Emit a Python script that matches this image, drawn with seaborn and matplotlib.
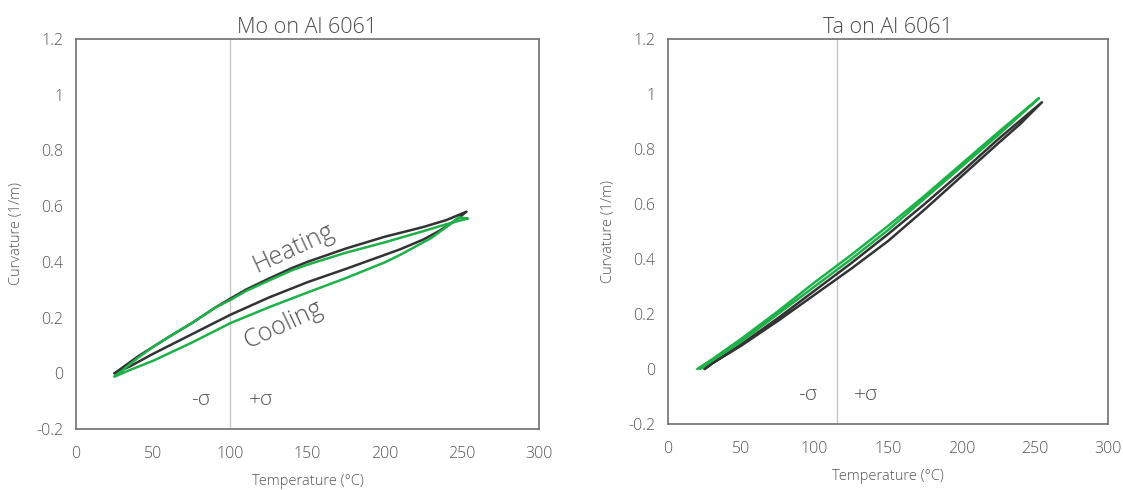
import numpy as np
import pandas as pd
import matplotlib
matplotlib.use("Agg")
import matplotlib.pyplot as plt
import seaborn as sns

# ---------------- data ----------------
titles = ["Mo on Al 6061", "Ta on Al 6061"]
x_label = "Temperature (°C)"
y_label = "Curvature (1/m)"
x_ticks = [0, 50, 100, 150, 200, 250, 300]
y_ticks = [-0.2, 0, 0.2, 0.4, 0.6, 0.8, 1.0, 1.2]
y_tick_labels = ["-0.2", "0", "0.2", "0.4", "0.6", "0.8", "1", "1.2"]
sigma_line_x = [100, 115]

# Mo on Al 6061 - run A (dark): heating branch then cooling branch
mo_a_T = [25, 30, 40, 50, 60, 75, 90, 100, 110, 125, 140, 150, 175, 200, 225, 240, 253,
          245, 235, 225, 210, 200, 175, 150, 125, 100, 75, 50, 35, 28, 25]
mo_a_K = [0.0, 0.02, 0.06, 0.095, 0.13, 0.18, 0.235, 0.268, 0.3, 0.34, 0.378, 0.4, 0.448, 0.49, 0.525, 0.55, 0.58,
          0.545, 0.51, 0.48, 0.445, 0.425, 0.375, 0.327, 0.272, 0.21, 0.14, 0.07, 0.025, 0.007, 0.0]
# Mo on Al 6061 - run B (green)
mo_b_T = [25, 30, 40, 50, 60, 75, 90, 100, 110, 125, 140, 150, 175, 200, 225, 240, 250, 254,
          248, 240, 230, 220, 210, 200, 175, 150, 125, 100, 75, 50, 35, 25]
mo_b_K = [-0.01, 0.01, 0.055, 0.095, 0.13, 0.18, 0.235, 0.263, 0.295, 0.333, 0.37, 0.39, 0.433, 0.47, 0.51, 0.535, 0.55, 0.555,
          0.56, 0.525, 0.485, 0.455, 0.425, 0.398, 0.342, 0.29, 0.237, 0.18, 0.11, 0.045, 0.012, -0.012]

# Ta on Al 6061 - run A (dark)
ta_a_T = [25, 30, 50, 75, 100, 125, 150, 175, 200, 225, 255,
          240, 225, 200, 175, 150, 125, 100, 75, 50, 30, 25]
ta_a_K = [0.0, 0.02, 0.09, 0.185, 0.285, 0.385, 0.49, 0.6, 0.715, 0.835, 0.97,
          0.89, 0.82, 0.70, 0.58, 0.465, 0.365, 0.27, 0.175, 0.085, 0.02, 0.0]
# Ta on Al 6061 - run B (green)
ta_b_T = [20, 30, 50, 75, 100, 125, 150, 175, 200, 225, 253,
          225, 200, 175, 150, 125, 100, 75, 50, 30, 22]
ta_b_K = [0.0, 0.035, 0.11, 0.21, 0.315, 0.415, 0.52, 0.63, 0.745, 0.86, 0.985,
          0.85, 0.735, 0.62, 0.505, 0.4, 0.3, 0.2, 0.1, 0.03, 0.0]

run_names = ["A", "B"]
run_colors = {"A": "#333333", "B": "#1fb04a"}

# ---------------- styling ----------------
sns.set_theme(style="white")
plt.rcParams["font.family"] = ["Open Sans", "DejaVu Sans"]
plt.rcParams["font.weight"] = "light"

text_color = "#555555"
spine_color = "#6e6e6e"

fig = plt.figure(figsize=(11.23, 4.9), dpi=100)
ax_l = fig.add_axes([0.0677, 0.1245, 0.4123, 0.796])
ax_r = fig.add_axes([0.5948, 0.1347, 0.3918, 0.7857])

panels = [
    (ax_l, [(mo_a_T, mo_a_K), (mo_b_T, mo_b_K)]),
    (ax_r, [(ta_a_T, ta_a_K), (ta_b_T, ta_b_K)]),
]

for i, (ax, runs) in enumerate(panels):
    frames = []
    for name, (T, K) in zip(run_names, runs):
        frames.append(pd.DataFrame({"T": T, "K": K, "run": name, "idx": np.arange(len(T))}))
    df = pd.concat(frames, ignore_index=True)
    ax.axvline(sigma_line_x[i], color="#c8c8c8", lw=1.0, zorder=1)
    sns.lineplot(data=df, x="T", y="K", hue="run", palette=run_colors, sort=False,
                 estimator=None, legend=False, lw=1.8, ax=ax, zorder=3)
    ax.set_xlim(0, 300)
    ax.set_ylim(-0.2, 1.2)
    ax.set_xticks(x_ticks)
    ax.set_xticklabels([str(t) for t in x_ticks])
    ax.set_yticks(y_ticks)
    ax.set_yticklabels(y_tick_labels)
    ax.tick_params(axis="both", direction="inout", length=8, width=1.2,
                   color=spine_color, labelcolor=text_color, labelsize=11.5, pad=5)
    ax.tick_params(axis="x", pad=8)
    for sp in ax.spines.values():
        sp.set_color(spine_color)
        sp.set_linewidth(1.2)
        sp.set_visible(True)
    ax.set_xlabel(x_label, color=text_color, fontsize=10.5, fontweight="light", labelpad=9)
    ax.set_ylabel(y_label, color=text_color, fontsize=10.5, fontweight="light", labelpad=9)
    ax.set_title(titles[i], color="#4d4d4d", fontsize=15.5, fontweight="light", pad=4)
    ax.grid(False)

# sigma annotations
ax_l.text(81, -0.096, "-σ", fontsize=15, color=text_color, ha="center", va="center", fontweight="light")
ax_l.text(120, -0.096, "+σ", fontsize=15, color=text_color, ha="center", va="center", fontweight="light")
ax_r.text(95, -0.093, "-σ", fontsize=15, color=text_color, ha="center", va="center", fontweight="light")
ax_r.text(135, -0.093, "+σ", fontsize=15, color=text_color, ha="center", va="center", fontweight="light")

# branch labels
ax_l.text(141, 0.449, "Heating", fontsize=18, color=text_color, ha="center", va="center",
          rotation=25, rotation_mode="anchor", fontweight="light")
ax_l.text(134, 0.174, "Cooling", fontsize=18, color=text_color, ha="center", va="center",
          rotation=25, rotation_mode="anchor", fontweight="light")

fig.savefig("out.png", dpi=100, facecolor="white")
